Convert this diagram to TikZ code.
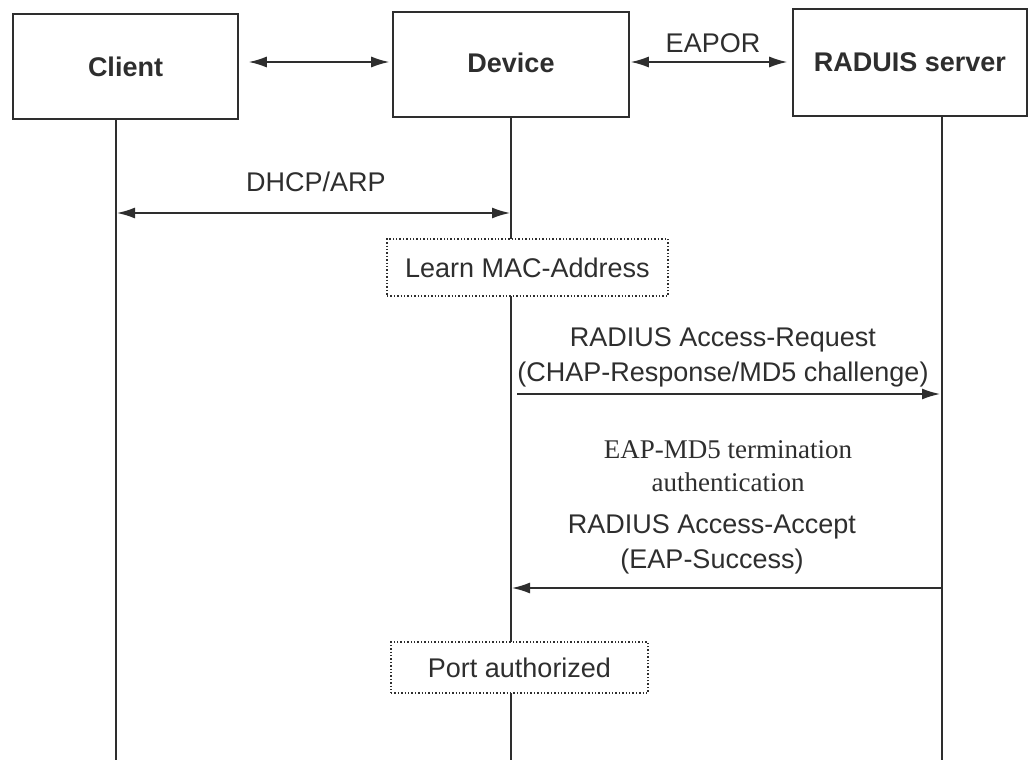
\documentclass[tikz,border=0pt]{standalone}
\usepackage{fontspec}
\setmainfont{Liberation Sans}
\newfontfamily\timesfont{Liberation Serif}
\usetikzlibrary{arrows.meta}
\definecolor{ink}{HTML}{2E2E2E}
\tikzset{
  entity/.style={draw=ink, line width=1.6pt, fill=white, inner sep=0pt,
    font=\fontsize{27}{33}\selectfont\bfseries, text=ink},
  note/.style={draw=ink, line width=1.4pt, dotted, fill=white, inner sep=0pt,
    font=\fontsize{27}{33}\selectfont, text=ink},
  lifeline/.style={draw=ink, line width=1.5pt},
  msg/.style={draw=ink, line width=1.5pt, -{Latex[length=18pt,width=11pt]}},
  msgboth/.style={draw=ink, line width=1.5pt, {Latex[length=18pt,width=11pt]}-{Latex[length=18pt,width=11pt]}},
  lbl/.style={font=\fontsize{27}{35}\selectfont, text=ink, align=center, inner sep=0pt},
  serlbl/.style={font=\timesfont\fontsize{27}{33}\selectfont, text=ink, align=center, inner sep=0pt}
}
\begin{document}
\begin{tikzpicture}[x=1pt, y=-1pt]
\useasboundingbox (0,0) rectangle (1029,760);

% lifelines, drawn first so that boxes cover them
\coordinate (cTop) at (116,119);
\coordinate (cBot) at (116,760);
\coordinate (dTop) at (511,117);
\coordinate (dBot) at (511,760);
\coordinate (rTop) at (942,116);
\coordinate (rBot) at (942,760);
\draw[lifeline] (cTop) -- (cBot);
\draw[lifeline] (dTop) -- (dBot);
\draw[lifeline] (rTop) -- (rBot);

% participants
\node[entity, minimum width=225pt, minimum height=105pt] (client) at (125.5,66.5) {\raisebox{-2pt}{Client}};
\node[entity, minimum width=236pt, minimum height=105pt] (device) at (511,64.5) {\raisebox{4pt}{Device}};
\node[entity, minimum width=234pt, minimum height=107pt] (radius) at (910,62.5) {RADUIS server};

% links between participants
\draw[msgboth, shorten <=10pt, shorten >=3pt] (client.east |- 0,62) -- (device.west |- 0,62);
\draw[msgboth, shorten <=1pt, shorten >=5pt] (device.east |- 0,62) -- (radius.west |- 0,62);
\node[lbl] (eapor) at (713,43) {EAPOR};

% DHCP/ARP exchange
\coordinate (dhcpL) at (117,213);
\coordinate (dhcpR) at (510,213);
\draw[msgboth] (dhcpL) -- (dhcpR);
\node[lbl] (dhcp) at (316,182) {DHCP/ARP};

% learning step on the device
\node[note, minimum width=281pt, minimum height=57pt] (learn) at (527.5,267.5) {Learn MAC-Address};

% access request
\coordinate (reqL) at (517,394);
\coordinate (reqR) at (940,394);
\draw[msg] (reqL) -- (reqR);
\node[lbl] (req) at (723,357) {RADIUS Access-Request\\(CHAP-Response/MD5 challenge)};

% authentication on the server side
\node[serlbl] (md5) at (728,466) {EAP-MD5 termination\\authentication};

% access accept
\coordinate (accR) at (942,588);
\coordinate (accL) at (512,588);
\draw[msg] (accR) -- (accL);
\node[lbl] (acc) at (712,544) {RADIUS Access-Accept\\(EAP-Success)};

% port authorization
\node[note, minimum width=257pt, minimum height=51pt] (port) at (519.5,667.5) {Port authorized};
\end{tikzpicture}
\end{document}
